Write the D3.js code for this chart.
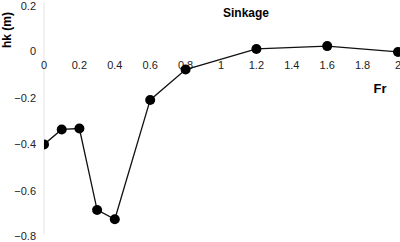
<!DOCTYPE html>
<html>
<head>
<meta charset="utf-8">
<script src="https://cdn.jsdelivr.net/npm/d3@7"></script>
<style>
  body { margin: 0; background: white; }
  svg { display: block; }
</style>
</head>
<body>
<div id="chart"></div>
<script>
var fr = [0, 0.1, 0.2, 0.3, 0.4, 0.6, 0.8, 1.2, 1.6, 2.0]
var sinkage = [-0.40, -0.336, -0.332, -0.68, -0.72, -0.21, -0.08, 0.008, 0.02, -0.005]
var xTicks = [0, 0.2, 0.4, 0.6, 0.8, 1, 1.2, 1.4, 1.6, 1.8, 2]
var yTicks = [0.2, 0, -0.2, -0.4, -0.6, -0.8]

const width = 400
const height = 242

var svg = d3.select("#chart").append("svg")
    .attr("width", width)
    .attr("height", height)
    .style("font-family", "Arial, 'Liberation Sans', sans-serif")

const x = d3.scaleLinear().domain([0, 2]).range([44, 398])
const y = d3.scaleLinear().domain([-0.8, 0.2]).range([238, 4])

svg.append("defs").append("clipPath")
    .attr("id", "plotClip")
    .append("rect")
    .attr("x", x(0))
    .attr("y", 0)
    .attr("width", width - x(0))
    .attr("height", height)

// y axis line (light gray)
svg.append("line")
    .attr("x1", x(0)).attr("x2", x(0))
    .attr("y1", y(0.2) - 2).attr("y2", y(-0.8) - 3)
    .style("stroke", "#e4e4e4")
    .style("stroke-width", 1)

// y tick labels, end ones nudged inside the window
svg.append("g").selectAll("text")
    .data(yTicks)
    .enter().append("text")
    .attr("x", 36)
    .attr("y", d => Math.min(Math.max(y(d) + 4, 10), 240))
    .attr("text-anchor", "end")
    .style("font-size", "11px")
    .style("fill", "#222")
    .text(d => d3.format("")(d))

// x tick labels sit under the zero line
svg.append("g").selectAll("text")
    .data(xTicks)
    .enter().append("text")
    .attr("x", d => x(d))
    .attr("y", y(0) + 18)
    .attr("text-anchor", "middle")
    .style("font-size", "11px")
    .style("fill", "#222")
    .text(d => d3.format("")(d))

const line = d3.line()
    .x((d, i) => x(fr[i]))
    .y(d => y(d))

const plot = svg.append("g").attr("clip-path", "url(#plotClip)")

plot.append("path")
    .datum(sinkage)
    .attr("d", line)
    .style("fill", "none")
    .style("stroke", "#111")
    .style("stroke-width", 1.3)

plot.selectAll("circle")
    .data(sinkage)
    .enter().append("circle")
    .attr("cx", (d, i) => x(fr[i]))
    .attr("cy", d => y(d))
    .attr("r", 5)
    .style("fill", "black")

// title
svg.append("text")
    .attr("x", 246)
    .attr("y", 17)
    .attr("text-anchor", "middle")
    .style("font-size", "12px")
    .style("font-weight", "bold")
    .text("Sinkage")

// axis titles
svg.append("text")
    .attr("x", 380)
    .attr("y", 93)
    .attr("text-anchor", "middle")
    .style("font-size", "13px")
    .style("font-weight", "bold")
    .text("Fr")

svg.append("text")
    .attr("transform", "translate(11, 30) rotate(-90)")
    .attr("text-anchor", "middle")
    .style("font-size", "12px")
    .style("font-weight", "bold")
    .text("hk (m)")
</script>
</body>
</html>
